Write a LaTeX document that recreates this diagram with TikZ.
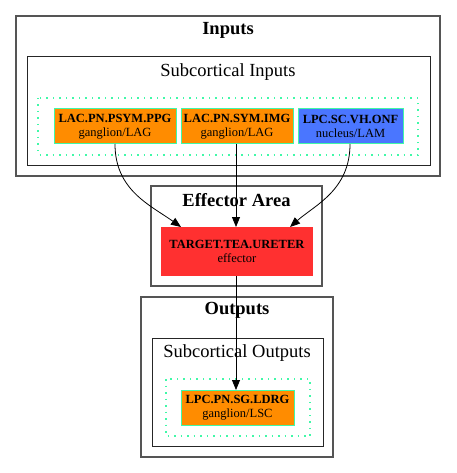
\documentclass[tikz,border=0pt]{standalone}
\usepackage{fontspec}
\setmainfont{Liberation Serif}
\usetikzlibrary{arrows.meta}
\definecolor{gvorange}{HTML}{FF8C00}
\definecolor{gvblue}{HTML}{4A76FF}
\definecolor{gvred}{HTML}{FF3030}
\definecolor{gvgreen}{HTML}{40F8A8}
\definecolor{gvgray}{HTML}{555555}
\tikzset{
  x=1pt, y=-1pt,
  cluster/.style={draw=gvgray, line width=1.2pt},
  subcluster/.style={draw=black!85, line width=1pt},
  dotbox/.style={draw=gvgreen, line width=1.2pt, dash pattern=on 1.5pt off 5pt},
  region/.style={draw=gvgreen, line width=1pt, inner sep=0pt, align=center, font=\fontsize{12.5}{14}\selectfont},
  title/.style={font=\fontsize{18.5}{20}\selectfont\bfseries},
  subtitle/.style={font=\fontsize{18.5}{20}\selectfont},
  conn/.style={line width=0.8pt, -{Triangle[length=10pt,width=8pt]}},
}
\begin{document}
\begin{tikzpicture}
\useasboundingbox (0,0) rectangle (456,473);
% Inputs
\draw[cluster] (16,16) rectangle (440,176);
\node[title] (tin) at (228,30) {Inputs};
\draw[subcluster] (27,57) rectangle (430,165);
\node[subtitle] (tsin) at (228,72) {Subcortical Inputs};
\draw[dotbox] (38,98) rectangle (418,155);
\path[region, fill=gvorange] (54,109) rectangle (176,144);
\node[region, draw=none] (n1) at (115,126.5) {\textbf{LAC.PN.PSYM.PPG}\\ganglion/LAG};
\path[region, fill=gvorange] (181,109) rectangle (293,144);
\node[region, draw=none] (n2) at (237,126.5) {\textbf{LAC.PN.SYM.IMG}\\ganglion/LAG};
\path[region, fill=gvblue] (298,109) rectangle (403,144);
\node[region, draw=none] (n3) at (350.5,126.5) {\textbf{LPC.SC.VH.ONF}\\nucleus/LAM};
\coordinate (n1b) at (115,144);
\coordinate (n2b) at (236,144);
\coordinate (n3b) at (350,144);
% Effector
\draw[cluster] (151,186) rectangle (322,286);
\node[title] (teff) at (236.5,200) {Effector Area};
\path[fill=gvred] (161,227) rectangle (313,276);
\node[region, draw=none] (tgt) at (237,251.5) {\textbf{TARGET.TEA.URETER}\\effector};
\coordinate (tgtt) at (236,227);
\coordinate (tgtl) at (181,227);
\coordinate (tgtr) at (290,227);
\coordinate (tgtb) at (236,276);
% Outputs
\draw[cluster] (141,297) rectangle (333,457);
\node[title] (tout) at (237,310) {Outputs};
\draw[subcluster] (152,338) rectangle (323,446);
\node[subtitle] (tsout) at (237,353) {Subcortical Outputs};
\draw[dotbox] (166,379) rectangle (310,436);
\path[region, fill=gvorange] (181,390) rectangle (294,425);
\node[region, draw=none] (o1) at (237.5,407.5) {\textbf{LPC.PN.SG.LDRG}\\ganglion/LSC};
\coordinate (o1t) at (236,390);
% edges
\draw[conn] (n1b) .. controls (115,190) and (150,205) .. (tgtl);
\draw[conn] (n2b) -- (tgtt);
\draw[conn] (n3b) .. controls (350,190) and (315,205) .. (tgtr);
\draw[conn] (tgtb) -- (o1t);
\end{tikzpicture}
\end{document}
